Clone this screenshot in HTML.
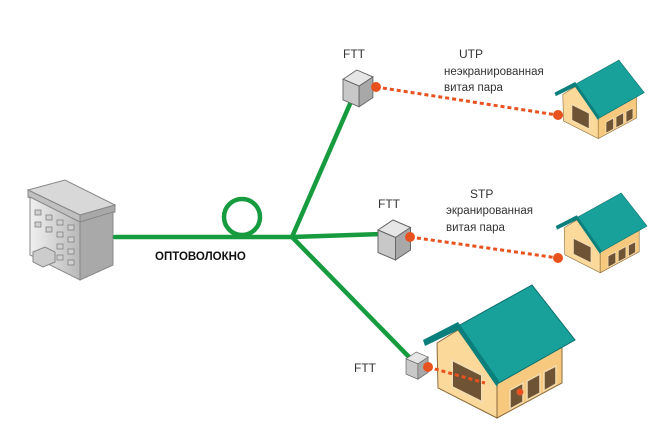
<!DOCTYPE html>
<html><head><meta charset="utf-8"><style>
html,body{margin:0;padding:0;background:#fff;width:670px;height:431px;overflow:hidden}
svg{display:block}
text{font-family:"Liberation Sans",sans-serif;fill:#333}
</style></head><body>
<svg width="670" height="431" viewBox="0 0 670 431" xmlns="http://www.w3.org/2000/svg">
<defs>
<linearGradient id="gf" x1="0" x2="1"><stop offset="0" stop-color="#f0f0f0"/><stop offset="1" stop-color="#b8b8b8"/></linearGradient>
<g id="house">
  <polygon points="438,388 437,343 458,330 497,384 497,418" fill="#fbd99a" stroke="#8a6a3a" stroke-width="1"/>
  <polygon points="497,418 562,383 562,345 497,378" fill="#f6c97e" stroke="#8a6a3a" stroke-width="1"/>
  <polygon points="458,326 532,285 575,340 497,384" fill="#18a09a" stroke="#0b6f6b" stroke-width="1"/>
  <polygon points="423,340 458,322 499,381 497,387 458,330 425,346" fill="#0b7f7c"/>
  <polygon points="452,360 482,375 482,402 452,387" fill="#6e5335" stroke="#f3dcb0" stroke-width="2"/>
  <polygon points="510,390 523,383 523,402 510,409" fill="#6e5335" stroke="#f3dcb0" stroke-width="1.5"/>
  <polygon points="527,381 540,374 540,393 527,400" fill="#6e5335" stroke="#f3dcb0" stroke-width="1.5"/>
  <polygon points="544,372 556,366 556,384 544,391" fill="#6e5335" stroke="#f3dcb0" stroke-width="1.5"/>
</g>
<g id="cube">
  <polygon points="0,8 12,0 26,6 14,14" fill="#e6e6e6" stroke="#666" stroke-width="0.8"/>
  <polygon points="0,8 14,14 14,32 0,26" fill="#c8c8c8" stroke="#666" stroke-width="0.8"/>
  <polygon points="14,14 26,6 26,24 14,32" fill="#a8a8a8" stroke="#666" stroke-width="0.8"/>
</g>
</defs>

<!-- building -->
<polygon points="28,190 65,180 115,205 80,215" fill="#d8d8d8" stroke="#888"/>
<polygon points="28,190 80,215 80,222 28,197" fill="#c0c0c0" stroke="#888"/>
<polygon points="80,215 115,205 115,212 80,222" fill="#a8a8a8" stroke="#888"/>
<polygon points="30,197 80,222 80,280 30,255" fill="url(#gf)" stroke="#888"/>
<polygon points="80,222 113,212 113,265 80,280" fill="#a9a9a9" stroke="#888"/>
<g fill="#d0d0d0" stroke="#777" stroke-width="0.7">
<rect x="35" y="210" width="6" height="5"/><rect x="46" y="215" width="6" height="5"/><rect x="57" y="220" width="6" height="5"/><rect x="68" y="225" width="6" height="5"/>
<rect x="35" y="222" width="6" height="5"/><rect x="46" y="227" width="6" height="5"/><rect x="57" y="232" width="6" height="5"/><rect x="68" y="237" width="6" height="5"/>
<rect x="57" y="244" width="6" height="5"/><rect x="68" y="249" width="6" height="5"/><rect x="57" y="255" width="6" height="5"/><rect x="68" y="260" width="6" height="5"/>
</g>
<polygon points="33,252 45,247 55,252 55,262 43,267 33,262" fill="#ccc" stroke="#888"/>

<!-- fibre -->
<g stroke="#169b3e" stroke-width="4.5" fill="none" stroke-linecap="round">
<line x1="115" y1="237" x2="292" y2="237"/>
<circle cx="242" cy="217" r="18"/>
<line x1="292" y1="237" x2="353" y2="97"/>
<line x1="292" y1="237" x2="382" y2="234"/>
<line x1="292" y1="237" x2="410" y2="358"/>
</g>
<text x="155" y="260" font-size="11.5" font-weight="bold" style="fill:#111">ОПТОВОЛОКНО</text>

<!-- houses -->
<use href="#house" transform="translate(305,-108) scale(0.59)"/>
<use href="#house" transform="translate(302,22) scale(0.6)"/>
<use href="#house"/>

<!-- cubes -->
<use href="#cube" transform="translate(343,70) scale(1.15)"/>
<use href="#cube" transform="translate(378,220) scale(1.25)"/>
<use href="#cube" transform="translate(406,352) scale(0.85)"/>

<!-- dotted links -->
<g stroke="#e8521e" stroke-width="3" stroke-dasharray="4,3">
<line x1="376" y1="87" x2="557" y2="115"/>
<line x1="410" y1="237" x2="558" y2="258"/>
<line x1="428" y1="367" x2="485" y2="383"/>
</g>
<g fill="#e8521e">
<circle cx="376" cy="87" r="5"/><circle cx="558" cy="115" r="5"/>
<circle cx="410" cy="237" r="5"/><circle cx="558" cy="258" r="5"/>
<circle cx="428" cy="367" r="5"/><circle cx="520" cy="392" r="3.5"/>
</g>

<text x="343" y="58" font-size="12">FTT</text>
<text x="378" y="208" font-size="12">FTT</text>
<text x="354" y="372" font-size="12">FTT</text>
<text x="459" y="58" font-size="12">UTP</text>
<text x="444" y="75" font-size="11.5">неэкранированная</text>
<text x="444" y="91" font-size="11.5">витая пара</text>
<text x="470" y="198" font-size="12">STP</text>
<text x="446" y="214" font-size="11.5">экранированная</text>
<text x="446" y="231" font-size="11.5">витая пара</text>
</svg>
</body></html>
